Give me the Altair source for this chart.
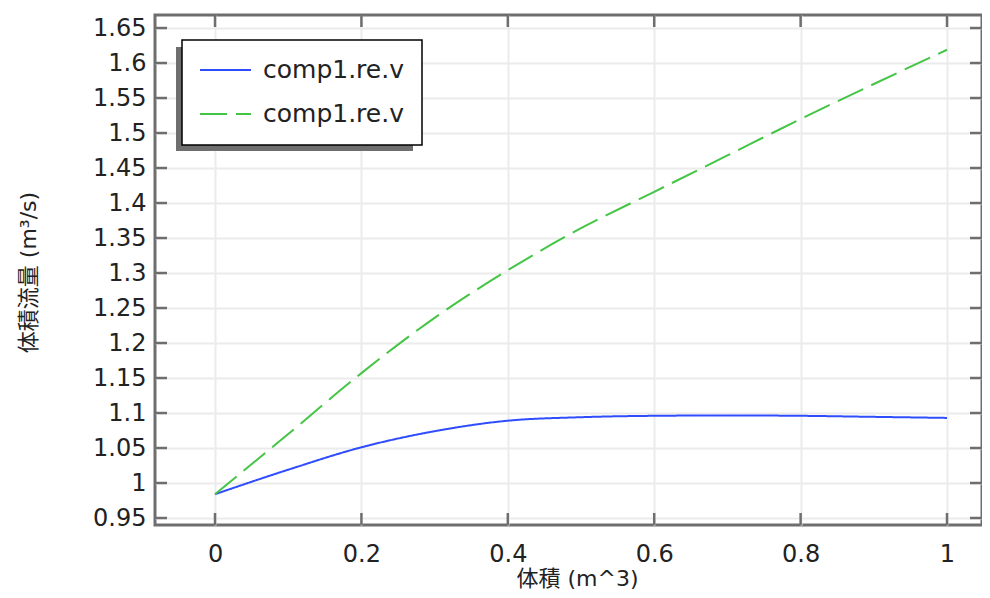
import altair as alt
import pandas as pd

# ---- data ----
volume = [0.0, 0.1, 0.2, 0.3, 0.4, 0.5, 0.6, 0.7, 0.8, 0.9, 1.0]
flow_blue = [0.984, 1.019, 1.051, 1.074, 1.089, 1.094, 1.096, 1.0965, 1.096, 1.0945, 1.093]
flow_green = [0.984, 1.070, 1.157, 1.236, 1.304, 1.364, 1.416, 1.468, 1.520, 1.570, 1.619]
series_keys = ["comp1.re.v (1)", "comp1.re.v (2)"]
legend_label = "comp1.re.v"
x_ticks = [0, 0.2, 0.4, 0.6, 0.8, 1.0]
y_ticks = [0.95, 1.0, 1.05, 1.1, 1.15, 1.2, 1.25, 1.3, 1.35, 1.4, 1.45, 1.5, 1.55, 1.6, 1.65]
x_title = "体積 (m^3)"
y_title = "体積流量 (m³/s)"

W, H = 827, 510
X_DOMAIN = [-0.082, 1.0478]
Y_DOMAIN = [0.94, 1.6686]
FRAME = "#6e6e6e"
TXT = "#222222"
FONT = "DejaVu Sans"
CJK = "DejaVu Sans, Noto Sans CJK JP"

df = pd.DataFrame({
    "volume": volume + volume,
    "flow": flow_blue + flow_green,
    "series": [series_keys[0]] * len(volume) + [series_keys[1]] * len(volume),
})

xs = alt.Scale(domain=X_DOMAIN, nice=False, zero=False)
ys = alt.Scale(domain=Y_DOMAIN, nice=False, zero=False)

x_axis = alt.Axis(values=x_ticks, format="~g", title=x_title, grid=True,
                  domain=False, ticks=False, labelPadding=17, labelOverlap=False,
                  titleX=422, titleY=53, titleBaseline="middle", titleAlign="center")
y_axis = alt.Axis(values=y_ticks, format=".2~f", title=y_title, grid=True,
                  domain=False, ticks=False, labelPadding=9, labelOverlap=False,
                  titleX=-127, titleY=257, titleAngle=-90,
                  titleBaseline="middle", titleAlign="center")

leg = dict(orient="none", legendX=27, legendY=25, title=None, padding=18,
           clipHeight=24, rowPadding=19, symbolType="stroke", symbolSize=2704,
           symbolStrokeWidth=2, symbolOffset=-2, labelOffset=11,
           labelExpr=f"'{legend_label}'", labelLimit=400)

shadow = alt.Chart(pd.DataFrame({"k": [0]})).mark_rect(color="#6f6f6f").encode(
    x=alt.value(21), x2=alt.value(258), y=alt.value(32), y2=alt.value(136))

lines = alt.Chart(df).mark_line(strokeWidth=2, interpolate="monotone", clip=True).encode(
    x=alt.X("volume:Q", scale=xs, axis=x_axis),
    y=alt.Y("flow:Q", scale=ys, axis=y_axis),
    color=alt.Color("series:N", scale=alt.Scale(domain=series_keys, range=["#2f4dff", "#45c545"]),
                    legend=alt.Legend(**leg)),
    strokeDash=alt.StrokeDash("series:N", scale=alt.Scale(domain=series_keys, range=[[1, 0], [28, 9]]),
                              legend=alt.Legend(**leg)),
)

ydf = pd.DataFrame({"flow": y_ticks})
xdf = pd.DataFrame({"volume": x_ticks})
tick_style = dict(color=FRAME, strokeWidth=2.5)
left_ticks = alt.Chart(ydf).mark_rule(**tick_style).encode(
    y=alt.Y("flow:Q", scale=ys, axis=y_axis), x=alt.value(0), x2=alt.value(12))
right_ticks = alt.Chart(ydf).mark_rule(**tick_style).encode(
    y=alt.Y("flow:Q", scale=ys, axis=y_axis), x=alt.value(W - 12), x2=alt.value(W))
bottom_ticks = alt.Chart(xdf).mark_rule(**tick_style).encode(
    x=alt.X("volume:Q", scale=xs, axis=x_axis), y=alt.value(H - 12), y2=alt.value(H))
top_ticks = alt.Chart(xdf).mark_rule(**tick_style).encode(
    x=alt.X("volume:Q", scale=xs, axis=x_axis), y=alt.value(0), y2=alt.value(12))

chart = alt.layer(shadow, lines, left_ticks, right_ticks, bottom_ticks, top_ticks).properties(
    width=W, height=H,
    autosize=alt.AutoSizeParams(type="none"),
    padding={"left": 147, "top": 7, "right": 0, "bottom": 66},
).configure_view(
    stroke=FRAME, strokeWidth=3
).configure_axis(
    labelFont=FONT, labelFontSize=24, labelColor=TXT, labelOverlap=False,
    titleFont=CJK, titleFontSize=22, titleFontWeight="normal", titleColor=TXT,
    gridColor="#ebebeb", gridWidth=2,
).configure_legend(
    labelFont=FONT, labelFontSize=25, labelColor=TXT,
    fillColor="white", strokeColor="black", strokeWidth=1.5,
)

chart.save("out.html", embed_options={"renderer": "svg", "actions": False})
